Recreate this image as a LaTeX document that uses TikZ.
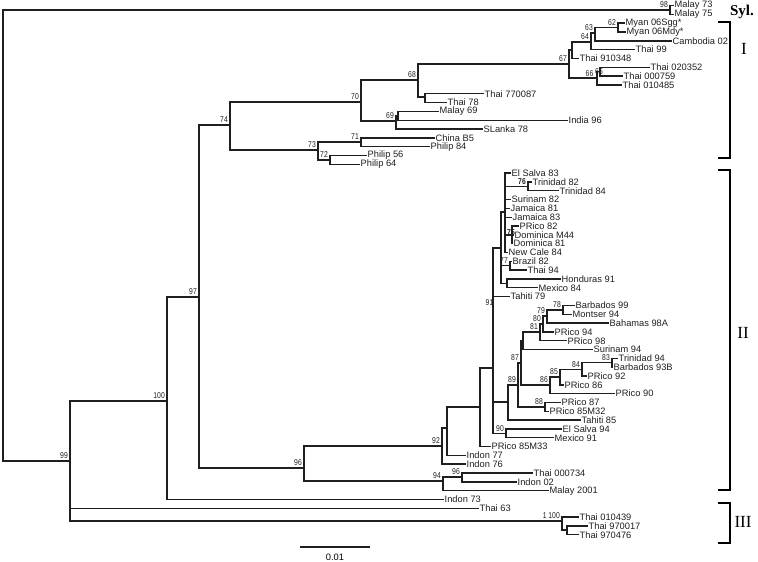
\documentclass[tikz,border=0pt]{standalone}
\usepackage{fontspec}
\setmainfont{Liberation Sans}
\newfontfamily\grpfont{Liberation Serif}
\newcommand\nlab[1]{\scalebox{0.8}[1]{#1}}
\begin{document}
\begin{tikzpicture}[x=1pt,y=-1pt,
  br/.style={line width=1.4pt, draw=black!88, line cap=rect},
  leaf/.style={anchor=west, inner ysep=0pt, inner xsep=1.5pt, font=\fontsize{9.3}{10}\selectfont, text=black!88},
  bsv/.style={anchor=south east, inner sep=0pt, font=\fontsize{8.5}{8.5}\selectfont, text=black!88},
  grp/.style={font=\grpfont\fontsize{17}{17}\selectfont, text=black},
  brk/.style={line width=1.4pt, draw=black}]
\useasboundingbox (0,0) rectangle (758,562);
\newcommand\kids[3]{\draw[br] (#1 |- #2) -- (#2); \draw[br] (#1 |- #3) -- (#3); \draw[br] (#1 |- #2) -- (#1 |- #3);}
\newcommand\kid[2]{\draw[br] (#1 |- #2) -- (#2);}
\newcommand\bsl[2]{\node[bsv] at ([xshift=-2pt,yshift=2pt]#1) {\nlab{#2}};}

% ---------- internal nodes ----------
\coordinate (R0) at (3,10);
\coordinate (NS) at (670,10);
\coordinate (N99) at (70,461);
\coordinate (N100) at (167,401);
\coordinate (N97) at (199,297);
\coordinate (N74) at (230,125);
\coordinate (N70) at (361,102);
\coordinate (N68) at (418,80);
\coordinate (NC) at (425,97);
\coordinate (N67) at (569,64);
\coordinate (NB) at (572,50);
\coordinate (N64) at (591,42);
\coordinate (N63) at (595,33);
\coordinate (N62) at (618,27.5);
\coordinate (N66) at (597,78);
\coordinate (N65) at (600,71.5);
\coordinate (N69) at (396,121);
\coordinate (ND) at (398,116);
\coordinate (N73) at (318,150);
\coordinate (N71) at (361,142);
\coordinate (N72) at (330,160);
\coordinate (N96) at (304,468);
\coordinate (N94) at (443,481);
\coordinate (N96b) at (462,477);
\coordinate (N92) at (442,446);
\coordinate (NX) at (447,428);
\coordinate (NY) at (480,407);
\coordinate (NZ) at (493,368);
\coordinate (U2) at (501,248);
\coordinate (U1) at (505,212);
\coordinate (N76) at (528,186.3);
\coordinate (N75) at (512,234.8);
\coordinate (N77) at (510,265.7);
\coordinate (NH) at (507,283.3);
\coordinate (NT) at (508,402);
\coordinate (N89) at (518,385);
\coordinate (N87) at (521,363);
\coordinate (NR) at (523,341);
\coordinate (N81) at (540,332);
\coordinate (N80) at (543,324);
\coordinate (N79) at (547,316);
\coordinate (N78) at (563,309.8);
\coordinate (N86) at (550,385);
\coordinate (N85) at (560,377);
\coordinate (N84) at (582,369.5);
\coordinate (N83) at (612,362.7);
\coordinate (N88) at (545,406.8);
\coordinate (N90) at (506,433.3);
\coordinate (N3) at (562,521);
\coordinate (N3b) at (567,530);

% ---------- leaves ----------
\node[leaf] (L0) at (673,5.5) {Malay 73};
\node[leaf] (L1) at (673,14.3) {Malay 75};
\node[leaf] (L2) at (624,23.1) {Myan 06Sgg*};
\node[leaf] (L3) at (625,32.0) {Myan 06Mdy*};
\node[leaf] (L4) at (671,40.8) {Cambodia 02};
\node[leaf] (L5) at (634,49.6) {Thai 99};
\node[leaf] (L6) at (578,58.4) {Thai 910348};
\node[leaf] (L7) at (649,67.2) {Thai 020352};
\node[leaf] (L8) at (622,76.1) {Thai 000759};
\node[leaf] (L9) at (621,84.9) {Thai 010485};
\node[leaf] (L10) at (483,93.7) {Thai 770087};
\node[leaf] (L11) at (446,102.5) {Thai 78};
\node[leaf] (L12) at (438,111.3) {Malay 69};
\node[leaf] (L13) at (567,120.2) {India 96};
\node[leaf] (L14) at (482,129.0) {SLanka 78};
\node[leaf] (L15) at (434,137.8) {China B5};
\node[leaf] (L16) at (429,146.6) {Philip 84};
\node[leaf] (L17) at (366,155.4) {Philip 56};
\node[leaf] (L18) at (359,164.3) {Philip 64};
\node[leaf] (L19) at (510,173.1) {El Salva 83};
\node[leaf] (L20) at (531,181.9) {Trinidad 82};
\node[leaf] (L21) at (558,190.7) {Trinidad 84};
\node[leaf] (L22) at (510,199.5) {Surinam 82};
\node[leaf] (L23) at (509,208.4) {Jamaica 81};
\node[leaf] (L24) at (511,217.2) {Jamaica 83};
\node[leaf] (L25) at (518,226.0) {PRico 82};
\node[leaf] (L26) at (513,234.8) {Dominica M44};
\node[leaf] (L27) at (512,243.6) {Dominica 81};
\node[leaf] (L28) at (507,252.5) {New Cale 84};
\node[leaf] (L29) at (511,261.3) {Brazil 82};
\node[leaf] (L30) at (526,270.1) {Thai 94};
\node[leaf] (L31) at (560,278.9) {Honduras 91};
\node[leaf] (L32) at (537,287.7) {Mexico 84};
\node[leaf] (L33) at (509,296.6) {Tahiti 79};
\node[leaf] (L34) at (574,305.4) {Barbados 99};
\node[leaf] (L35) at (571,314.2) {Montser 94};
\node[leaf] (L36) at (608,323.0) {Bahamas 98A};
\node[leaf] (L37) at (553,331.8) {PRico 94};
\node[leaf] (L38) at (566,340.7) {PRico 98};
\node[leaf] (L39) at (592,349.5) {Surinam 94};
\node[leaf] (L40) at (617,358.3) {Trinidad 94};
\node[leaf] (L41) at (612,367.1) {Barbados 93B};
\node[leaf] (L42) at (586,375.9) {PRico 92};
\node[leaf] (L43) at (563,384.8) {PRico 86};
\node[leaf] (L44) at (614,393.6) {PRico 90};
\node[leaf] (L45) at (560,402.4) {PRico 87};
\node[leaf] (L46) at (548,411.2) {PRico 85M32};
\node[leaf] (L47) at (580,420.0) {Tahiti 85};
\node[leaf] (L48) at (561,428.9) {El Salva 94};
\node[leaf] (L49) at (553,437.7) {Mexico 91};
\node[leaf] (L50) at (490,446.5) {PRico 85M33};
\node[leaf] (L51) at (465,455.3) {Indon 77};
\node[leaf] (L52) at (465,464.1) {Indon 76};
\node[leaf] (L53) at (532,473.0) {Thai 000734};
\node[leaf] (L54) at (516,481.8) {Indon 02};
\node[leaf] (L55) at (548,490.6) {Malay 2001};
\node[leaf] (L56) at (443,499.4) {Indon 73};
\node[leaf] (L57) at (478,508.2) {Thai 63};
\node[leaf] (L58) at (578,517.0) {Thai 010439};
\node[leaf] (L59) at (587,525.9) {Thai 970017};
\node[leaf] (L60) at (578,534.7) {Thai 970476};

% ---------- branches ----------
\kids{R0}{NS}{N99}
\kids{NS}{L0}{L1}
\kids{N99}{N100}{N3}\kid{N99}{L57}
\kids{N100}{N97}{L56}
\kids{N97}{N74}{N96}
\kids{N74}{N70}{N73}
\kids{N70}{N68}{N69}
\kids{N68}{N67}{NC}
\kids{NC}{L10}{L11}
\kids{N67}{NB}{N66}
\kids{NB}{N64}{L6}
\kids{N64}{N63}{L5}
\kids{N63}{N62}{L4}
\kids{N62}{L2}{L3}
\kids{N66}{N65}{L9}
\kids{N65}{L7}{L8}
\kids{N69}{ND}{L14}
\kids{ND}{L12}{L13}
\kids{N73}{N71}{N72}
\kids{N71}{L15}{L16}
\kids{N72}{L17}{L18}
\kids{N96}{N92}{N94}
\kids{N94}{N96b}{L55}
\kids{N96b}{L53}{L54}
\kids{N92}{NX}{L52}
\kids{NX}{NY}{L51}
\kids{NY}{NZ}{L50}
\kids{NZ}{U2}{N90}\kid{NZ}{L33}\kid{NZ}{NT}
\kids{U2}{U1}{NH}\kid{U2}{N77}
\kids{U1}{L19}{L28}\kid{U1}{N76}\kid{U1}{L22}\kid{U1}{L23}\kid{U1}{L24}\kid{U1}{N75}
\kids{N76}{L20}{L21}
\kids{N75}{L25}{L27}\kid{N75}{L26}
\kids{N77}{L29}{L30}
\kids{NH}{L31}{L32}
\kids{NT}{N89}{L47}
\kids{N89}{N87}{N88}
\kids{N87}{NR}{N86}
\kids{NR}{N81}{L39}
\kids{N81}{N80}{L38}
\kids{N80}{N79}{L37}
\kids{N79}{N78}{L36}
\kids{N78}{L34}{L35}
\kids{N86}{N85}{L44}
\kids{N85}{N84}{L43}
\kids{N84}{N83}{L42}
\kids{N83}{L40}{L41}
\kids{N88}{L45}{L46}
\kids{N90}{L48}{L49}
\kids{N3}{L58}{N3b}
\kids{N3b}{L59}{L60}

% ---------- support values ----------
\bsl{NS}{98}
\bsl{N99}{99}
\bsl{N100}{100}
\bsl{N97}{97}
\bsl{N74}{74}
\bsl{N70}{70}
\bsl{N68}{68}
\bsl{N67}{67}
\bsl{N64}{64}
\bsl{N63}{63}
\bsl{N62}{62}
\node[bsv] at ([xshift=-3.5pt,yshift=1.5pt]N66) {\nlab{66}};
\node[bsv] at ([xshift=3pt,yshift=-3pt]N65) {\nlab{65}};
\bsl{N69}{69}
\bsl{N73}{73}
\bsl{N71}{71}
\bsl{N72}{72}
\bsl{N96}{96}
\bsl{N94}{94}
\bsl{N96b}{96}
\bsl{N92}{92}
\bsl{N78}{78}
\bsl{N79}{79}
\bsl{N80}{80}
\bsl{N81}{81}
\bsl{N83}{83}
\bsl{N84}{84}
\bsl{N85}{85}
\bsl{N86}{86}
\bsl{N87}{87}
\bsl{N89}{89}
\bsl{N88}{88}
\bsl{N90}{90}
\bsl{N77}{77}
\node[bsv] at ([xshift=-2pt,yshift=1.5pt]N76) {\bfseries\nlab{76}};
\node[bsv] at ([xshift=3pt,yshift=-1pt]N75) {\bfseries\nlab{75}};
\node[bsv] at (493.5,306) {\nlab{91}};
\node[bsv] (b3) at ([xshift=-2pt,yshift=2pt]N3) {\nlab{100}};
\node[bsv, anchor=south east] at ([xshift=-1.5pt]b3.south west) {\nlab{1}};

% ---------- groups ----------
\node[font=\grpfont\bfseries\fontsize{15}{15}\selectfont] (syl) at (742,12) {Syl.};
\draw[brk] (718,22) -- (730,22) -- (730,158) -- (718,158);
\node[grp] (g1) at (744,49) {I};
\draw[brk] (718,170) -- (730,170) -- (730,490) -- (718,490);
\node[grp] (g2) at (743,333) {II};
\draw[brk] (718,503) -- (730,503) -- (730,543) -- (718,543);
\node[grp] (g3) at (743,522) {III};

% ---------- scale ----------
\coordinate (s1) at (301,547);
\coordinate (s2) at (369,547);
\draw[br] (s1) -- (s2);
\node[font=\fontsize{9.3}{10}\selectfont] (sl) at (335,557) {0.01};
\end{tikzpicture}
\end{document}
